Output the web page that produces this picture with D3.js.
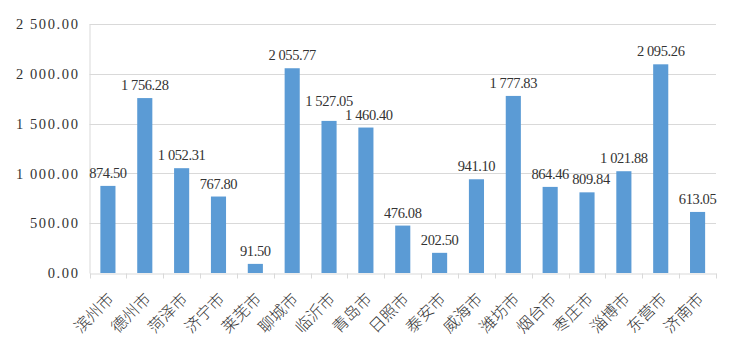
<!DOCTYPE html>
<html><head><meta charset="utf-8">
<script src="https://cdn.jsdelivr.net/npm/d3@7"></script>
<style>
html,body{margin:0;padding:0;background:#fff;}
svg{display:block;}
</style></head>
<body>
<svg id="chart" width="733" height="348"></svg>
<script>
const categories = ["滨州市","德州市","菏泽市","济宁市","莱芜市","聊城市","临沂市","青岛市","日照市","泰安市","威海市","潍坊市","烟台市","枣庄市","淄博市","东营市","济南市"];
const values = [874.50,1756.28,1052.31,767.80,91.50,2055.77,1527.05,1460.40,476.08,202.50,941.10,1777.83,864.46,809.84,1021.88,2095.26,613.05];
const yTicks = [0,500,1000,1500,2000,2500];
// manual label nudges [dx, dy] as in the reference
const labelNudge = [[0,0],[0,0],[0,0],[0,0],[0,0],[0,0],[0,-7],[3,0],[0,0],[0,0],[0,0],[0,0],[0,0],[4,0],[0,0],[0,0],[0,0]];

(function () {
const svg = d3.select("#chart");
const mLeft = 89.5, mRight = 716, mTop = 24, mBottom = 273;

const x = d3.scaleBand().domain(categories).range([mLeft, mRight]).paddingInner(0.59).paddingOuter(0.295);
const y = d3.scaleLinear().domain([0, 2500]).range([mBottom, mTop]);

const fmt = v => d3.format(",.2f")(v).replace(/,/g, " ");

// gridlines
svg.append("g").selectAll("line").data(yTicks.filter(d => d > 0)).join("line")
  .attr("x1", mLeft).attr("x2", mRight)
  .attr("y1", d => Math.round(y(d)) + 0.5).attr("y2", d => Math.round(y(d)) + 0.5)
  .attr("stroke", "#d9d9d9").attr("stroke-width", 1);

// y axis
const yAxis = svg.append("g").attr("transform", `translate(${mLeft},0)`)
  .call(d3.axisLeft(y).tickValues(yTicks).tickSize(0).tickPadding(10).tickFormat(fmt));
yAxis.select(".domain").attr("stroke", "#d9d9d9");
yAxis.selectAll("text")
  .attr("font-family", "'Liberation Serif','Times New Roman',serif")
  .attr("font-size", "14.5px").attr("fill", "#333")
  .attr("letter-spacing", "1.6px");

// bars
svg.append("g").selectAll("rect").data(values).join("rect")
  .attr("x", (d, i) => x(categories[i]))
  .attr("width", x.bandwidth())
  .attr("y", d => y(d))
  .attr("height", d => y(0) - y(d))
  .attr("fill", "#5b9bd5");

// x axis
const xAxis = svg.append("g").attr("transform", `translate(0,${mBottom + 0.5})`)
  .call(d3.axisBottom(x).tickSize(0).tickFormat(""));
xAxis.select(".domain").attr("stroke", "#d9d9d9");
xAxis.selectAll(".tick").remove();
const step = x.step();
const bounds = d3.range(categories.length + 1).map(i => x(categories[0]) - (step - x.bandwidth()) / 2 + i * step);
xAxis.selectAll("line.sep").data(bounds).join("line").attr("class", "sep")
  .attr("x1", d => Math.round(d) + 0.5).attr("x2", d => Math.round(d) + 0.5)
  .attr("y1", 0).attr("y2", 5).attr("stroke", "#d9d9d9");

// category labels
svg.append("g").selectAll("text").data(categories).join("text")
  .attr("transform", d => `translate(${x(d) + x.bandwidth() / 2 + 3},${mBottom + 23}) rotate(-45)`)
  .attr("text-anchor", "end").attr("dy", "0.35em")
  .attr("font-family", "'Noto Sans CJK SC',sans-serif")
  .attr("font-weight", 300)
  .attr("font-size", "16px").attr("fill", "#333")
  .text(d => d);

// value labels
svg.append("g").selectAll("text").data(values).join("text")
  .attr("x", (d, i) => x(categories[i]) + x.bandwidth() / 2 + labelNudge[i][0])
  .attr("y", (d, i) => y(d) - 8 + labelNudge[i][1])
  .attr("text-anchor", "middle")
  .attr("font-family", "'Liberation Serif','Times New Roman',serif")
  .attr("font-size", "14.5px").attr("letter-spacing", "-0.4px").attr("fill", "#333")
  .text(d => fmt(d));
})();
</script>
</body></html>
